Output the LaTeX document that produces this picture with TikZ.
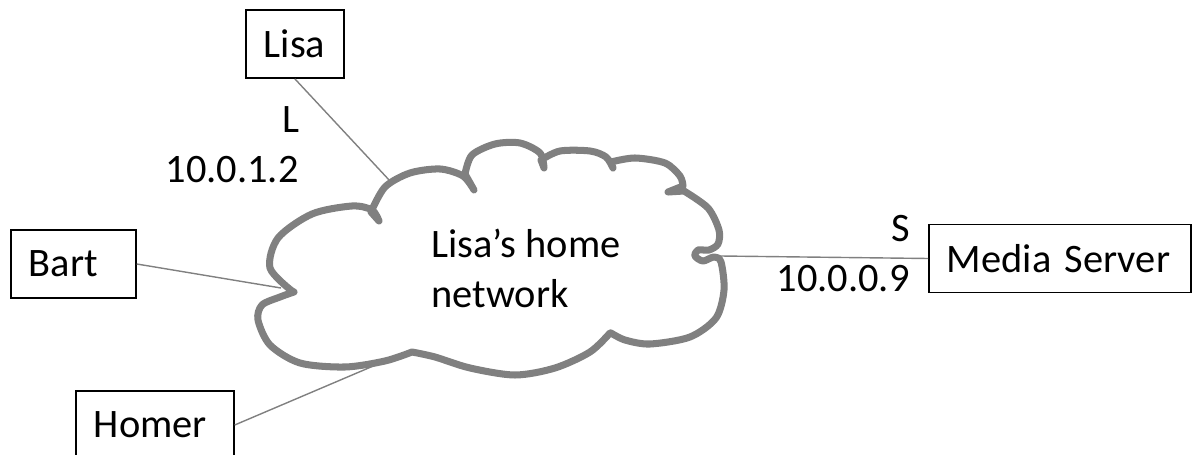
\documentclass[tikz,border=0pt]{standalone}
\usepackage{fontspec}
\setmainfont{Carlito}
\usepackage{tikz}
\usetikzlibrary{shapes}
\usetikzlibrary{arrows}

\begin{document}
\begin{tikzpicture}[x=0.02cm,y=-0.02cm]
\tikzstyle{every node}=[font=\fontsize{23}{28.5}\selectfont]
\tikzstyle{host}=[rectangle,draw,line width=1pt,minimum height=1.36cm,inner xsep=0.36cm,align=left,anchor=west]
\tikzstyle{link}=[draw={rgb,255:red,128;green,128;blue,128},line width=0.8pt]
\tikzstyle{addr}=[anchor=base east,inner sep=0pt]
\tikzstyle{cloudline}=[draw={rgb,255:red,128;green,128;blue,128},line width=4pt,line join=round,fill=white]
\useasboundingbox (0,0) rectangle (1197,455);
\node[host,text width=1.24cm] (lisa) at (245,44) {Lisa};
\node[host,text width=1.78cm] (bart) at (10,264) {Bart};
\node[host,text width=2.44cm] (homer) at (75,425) {Homer};
\node[host,text width=4.52cm] (media) at (928,258.5) {Media Server};
\coordinate (cl) at (390,181);
\coordinate (cb) at (281,288);
\coordinate (ch) at (378,364);
\coordinate (cm) at (720,256);
\draw[cloudline] plot[smooth] coordinates {(292,291) (270,268) (278,238) (312,214) (352,206) (372,210) (379,221)}
  -- plot[smooth] coordinates {(371,212) (385,187) (410,173) (440,169) (463,176) (474,190)}
  -- plot[smooth] coordinates {(465,174) (472,155) (495,144) (520,143) (540,153) (544,168)}
  -- plot[smooth] coordinates {(541,160) (560,151) (590,151) (606,157) (613,168)}
  -- plot[smooth] coordinates {(611,162) (635,158) (665,163) (680,176) (683,186)}
  -- (668,192) -- plot[smooth] coordinates {(684,191) (708,208) (719,230) (718,244) (709,250) (698,250) (695,256) (703,261) (714,257) (721,262) (724,290) (716,318) (690,337) (650,344) (625,340) (611,333)}
  -- plot[smooth] coordinates {(610,333) (590,352) (555,368) (515,375) (470,368) (435,357) (412,352)}
  -- plot[smooth] coordinates {(412,352) (385,361) (345,367) (300,363) (270,345) (258,320) (262,305) (280,297) (294,292)}
  -- cycle;
\node[align=left] (net) at (526,268) {Lisa’s home\\network};
\draw[link] (lisa.south) -- (cl);
\draw[link] (bart.east) -- (cb);
\draw[link] (homer.east) -- (ch);
\draw[link] (cm) -- (media.west);
\node[addr] (lisaport) at (300,133) {L};
\node[addr] (lisaip) at (299,183) {10.0.1.2};
\node[addr] (mediaport) at (910,242) {S};
\node[addr] (mediaip) at (910,292) {10.0.0.9};
\end{tikzpicture}
\end{document}
